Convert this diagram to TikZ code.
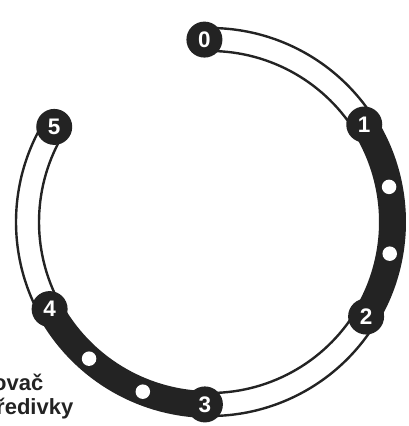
\documentclass[tikz,border=0pt]{standalone}
\usepackage{fontspec}
\setmainfont{Liberation Sans}
\begin{document}
\begin{tikzpicture}[x=1pt,y=1pt]
\definecolor{ink}{RGB}{35,35,35}
\useasboundingbox (-210,-204) rectangle (198,222);
\tikzset{
  numnode/.style={circle,fill=ink,minimum size=36pt,inner sep=0pt,text=white,
    font=\fontsize{22.5}{22.5}\selectfont\bfseries},
  bandline/.style={draw=ink,line width=2.4pt},
  blackband/.style={draw=ink,line width=27pt},
  hole/.style={circle,fill=white,minimum size=14.5pt,inner sep=0pt},
  lbl/.style={font=\fontsize{22}{24}\selectfont\bfseries,text=ink,inner sep=0pt,anchor=base east}
}
\def\R{182.5}
\def\Ro{194}
\def\Ri{171}
% node positions on the ring
\coordinate (p0) at (91.75:\R);
\coordinate (p1) at (32.3:\R);
\coordinate (p2) at (-31.2:\R);
\coordinate (p3) at (-91.6:\R);
\coordinate (p4) at (-151.5:\R);
\coordinate (p5) at (148.6:\R);
% white bands
\draw[bandline] (91.75:\Ro) arc[start angle=91.75,end angle=32.3,radius=\Ro];
\draw[bandline] (91.75:\Ri) arc[start angle=91.75,end angle=32.3,radius=\Ri];
\draw[bandline] (-31.2:\Ro) arc[start angle=-31.2,end angle=-91.6,radius=\Ro];
\draw[bandline] (-31.2:\Ri) arc[start angle=-31.2,end angle=-91.6,radius=\Ri];
\draw[bandline] (208.5:\Ro) arc[start angle=208.5,end angle=148.6,radius=\Ro];
\draw[bandline] (208.5:\Ri) arc[start angle=208.5,end angle=148.6,radius=\Ri];
% black bands
\draw[blackband] (p1) arc[start angle=32.3,end angle=-31.2,radius=\R];
\draw[blackband] (p3) arc[start angle=268.4,end angle=208.5,radius=\R];
% holes
\node[hole] (h1) at (11.1:\R) {};
\node[hole] (h2) at (-10.0:\R) {};
\node[hole] (h3) at (248.4:\R) {};
\node[hole] (h4) at (228.5:\R) {};
% numbered nodes
\node[numnode] (n0) at (p0) {0};
\node[numnode] (n1) at (p1) {1};
\node[numnode] (n2) at (p2) {2};
\node[numnode] (n3) at (p3) {3};
\node[numnode] (n4) at (p4) {4};
\node[numnode] (n5) at (p5) {5};
% label (cut off at the left edge, as in the reference)
\node[lbl] (t1) at (-166.5,-168) {ovač};
\node[lbl] (t2) at (-136.5,-192.5) {ředivky};
\end{tikzpicture}
\end{document}
